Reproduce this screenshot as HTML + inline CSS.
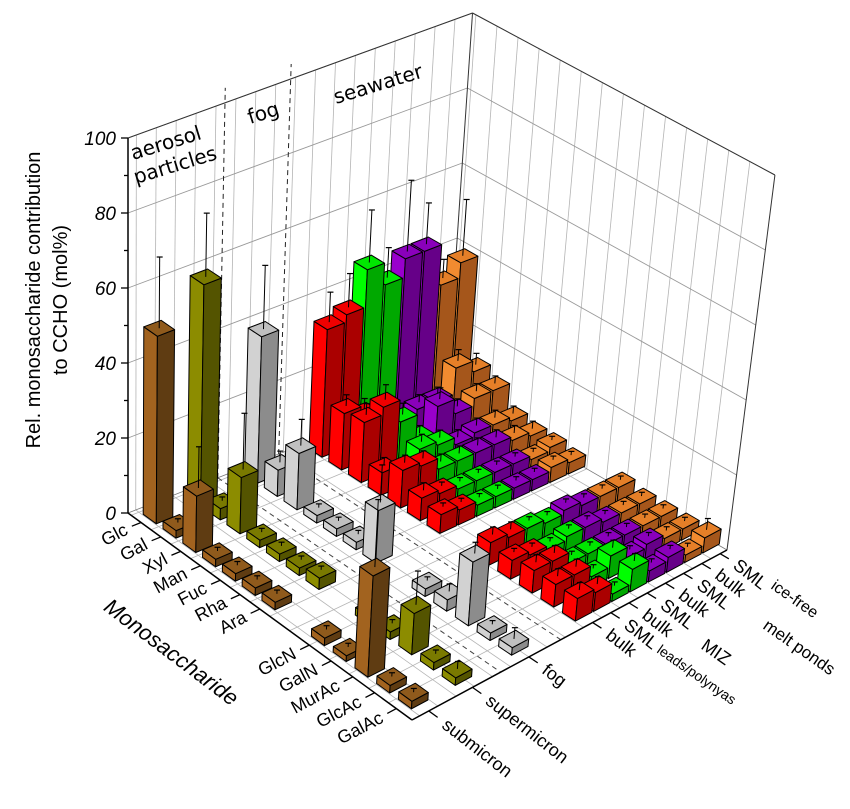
<!DOCTYPE html>
<html><head><meta charset="utf-8"><style>
html,body{margin:0;padding:0;background:#fff;}
svg{display:block;font-family:"Liberation Sans","DejaVu Sans",sans-serif;}
</style></head><body>
<svg id="chart" width="850" height="809" viewBox="0 0 850 809">
<g id="walls"></g>
<g id="bars"></g>
<g id="axes"></g>
<text x="40" y="300" font-size="20" text-anchor="middle" transform="rotate(-90 40 300)">Rel. monosaccharide contribution</text>
<text x="67" y="300" font-size="20" text-anchor="middle" transform="rotate(-90 67 300)">to CCHO (mol%)</text>
<text x="167" y="658" font-size="22" font-style="italic" text-anchor="middle" transform="rotate(37 167 658)">Monosaccharide</text>
<text x="133" y="160" font-size="20" font-family="DejaVu Sans, sans-serif" transform="rotate(-17 133 160)">aerosol</text>
<text x="136" y="184" font-size="20" font-family="DejaVu Sans, sans-serif" transform="rotate(-17 136 184)">particles</text>
<text x="250" y="124" font-size="20" font-family="DejaVu Sans, sans-serif" transform="rotate(-17 250 124)">fog</text>
<text x="336" y="104" font-size="20" font-family="DejaVu Sans, sans-serif" transform="rotate(-17 336 104)">seawater</text>
<text x="656" y="652" font-size="14" transform="rotate(35 656 652)">leads/polynyas</text>
<text x="700" y="648" font-size="18" transform="rotate(35 700 648)">MIZ</text>
<text x="762" y="628" font-size="17" transform="rotate(35 762 628)">melt ponds</text>
<text x="770" y="588" font-size="16" transform="rotate(35 770 588)">ice-free</text>
</svg>
<script>
const categories=["Glc","Gal","Xyl","Man","Fuc","Rha","Ara","GlcN","GalN","MurAc","GlcAc","GalAc"];
const catPos=[0,1,2,3,4,5,6,8.5,9.6,10.7,11.8,12.9];
const seriesLabels=["submicron","supermicron","fog","bulk","SML","bulk","SML","bulk","SML","bulk","SML"];
const seriesPos=[0,2.4,5.5,9,10,11,12,13,14,15,16];
const yTicks=[0,20,40,60,80,100];
const vSubmicron=[50,2,15,2,2,2,2,2,1.5,27,2,2];
const eSubmicron=[19,1,11,1,1,1,1,1,1,18,1,1];
const vSupermicron=[59,3,15,2,2,2,3,2,2,11,2,2];
const eSupermicron=[17,1,15,1,1,1,1,1,1,9,1,2];
const vFog=[39,7,15,2,2,2,14,2,3,17,2,2];
const eFog=[17,3,7,1,1,1,10,1,2,3,1,3];
const vBulkLP=[34,15,16,6,10,6,5,6,5,6,6,6];
const eBulkLP=[8,3,3,2,2,2,1,2,1,2,2,2];
const vSmlLP=[36,12,18,3,9,5,4,5,4,6,6,5];
const eSmlLP=[9,3,4,2,2,1,1,2,1,2,2,2];
const vBulkMIZ=[46,8,12,8,6,4,3,5,3,3,3,2];
const eBulkMIZ=[14,2,3,2,2,1,1,1,1,1,1,1];
const vSmlMIZ=[40,6,5,7,6,4,3,4,4,3,6,6];
const eSmlMIZ=[8,2,2,2,2,1,1,1,1,1,2,2];
const vBulkMP=[45,8,12,5,6,4,3,5,4,3,3,3];
const eBulkMP=[19,2,3,2,2,1,1,1,1,1,1,1];
const vSmlMP=[45,8,8,6,6,4,3,4,3,3,4,4];
const eSmlMP=[11,2,2,2,2,1,1,1,1,1,1,1];
const vBulkIF=[34,15,10,6,5,3,4,4,3,3,3,2];
const eBulkIF=[5,3,2,2,2,1,1,1,1,1,1,1];
const vSmlIF=[38,12,10,5,4,4,3,4,3,3,3,4];
const eSmlIF=[15,3,2,2,2,1,1,1,1,1,1,3];
const seriesValues=[vSubmicron,vSupermicron,vFog,vBulkLP,vSmlLP,vBulkMIZ,vSmlMIZ,vBulkMP,vSmlMP,vBulkIF,vSmlIF];
const seriesErrors=[eSubmicron,eSupermicron,eFog,eBulkLP,eSmlLP,eBulkMIZ,eSmlMIZ,eBulkMP,eSmlMP,eBulkIF,eSmlIF];
const seriesNames=["submicron","supermicron","fog","bulk-leads","sml-leads","bulk-miz","sml-miz","bulk-meltponds","sml-meltponds","bulk-icefree","sml-icefree"];

const PAL={brown:['#a2631f','#5f3c12','#8f5a1c'],olive:['#8c8c00','#545400','#7a7a00'],gray:['#d2d2d2','#8c8c8c','#c0c0c0'],red:['#ff0000','#aa0000','#f00000'],green:['#00ff00','#00a800','#00e600'],purple:['#9900cc','#660088','#8a00bb'],orange:['#f28b30','#a5561b','#e57f28']};
const seriesColor=[PAL.brown,PAL.olive,PAL.gray,PAL.red,PAL.red,PAL.green,PAL.green,PAL.purple,PAL.purple,PAL.orange,PAL.orange];

const NS="http://www.w3.org/2000/svg";
const IMIN=-0.66,IMAX=13.69,JMIN=-0.92,JMAX=16.38,ZS=3.75;
const F00=[128,513],F10=[412,720],F11=[727,550],F01=[447,388];
function base(i,j){
  const fi=(i-IMIN)/(IMAX-IMIN),fj=(j-JMIN)/(JMAX-JMIN);
  const a=(1-fi)*(1-fj),b=fi*(1-fj),c=fi*fj,d=(1-fi)*fj;
  return [a*F00[0]+b*F10[0]+c*F11[0]+d*F01[0],a*F00[1]+b*F10[1]+c*F11[1]+d*F01[1]];
}
function P(i,j,z){const b=base(i,j);return [b[0]+0.0008*(b[0]-128)*z,b[1]-ZS*z];}
function mk(tag,attrs){const el=document.createElementNS(NS,tag);for(const k in attrs)el.setAttribute(k,attrs[k]);return el;}
function pts(a){return a.map(p=>p[0].toFixed(1)+','+p[1].toFixed(1)).join(' ');}
function line(g,p,q,stroke,w,dash){const l=mk('line',{x1:p[0],y1:p[1],x2:q[0],y2:q[1],stroke:stroke,'stroke-width':w});if(dash)l.setAttribute('stroke-dasharray',dash);g.appendChild(l);return l;}

const walls=document.getElementById('walls');
const axes=document.getElementById('axes');
const barsG=document.getElementById('bars');

// walls
const lw=mk('polygon',{points:pts([P(IMIN,JMIN,0),P(IMIN,JMAX,0),P(IMIN,JMAX,100),P(IMIN,JMIN,100)]),fill:'#fff',stroke:'none'});


walls.appendChild(lw);
const gridC='#b4b4b4';
for(let k=0;k<=16;k++){const j=k-0.5;line(walls,P(IMIN,j,0),P(IMIN,j,100),gridC,0.8);line(walls,P(IMIN,j,0),P(IMAX,j,0),gridC,0.8);}
for(let k=0;k<=13;k++){const i=k-0.5;line(walls,P(i,JMAX,0),P(i,JMAX,100),gridC,0.8);line(walls,P(i,JMIN,0),P(i,JMAX,0),gridC,0.8);}
for(const z of yTicks){if(z===0)continue;line(walls,P(IMIN,JMIN,z),P(IMIN,JMAX,z),'#999',0.9);line(walls,P(IMIN,JMAX,z),P(IMAX,JMAX,z),'#999',0.9);}
line(walls,P(IMIN,JMIN,100),P(IMIN,JMAX,100),'#333',1);
line(walls,P(IMIN,JMAX,100),P(IMAX,JMAX,100),'#333',1);
line(walls,P(IMIN,JMAX,0),P(IMIN,JMAX,100),'#333',1);
line(walls,P(IMAX,JMAX,0),P(IMAX,JMAX,100),'#333',1);
line(walls,P(IMIN,JMAX,0),P(IMAX,JMAX,0),'#777',0.8);
line(walls,P(IMIN,JMIN,0),P(IMIN,JMAX,0),'#777',0.8);
for(const j of [3.95,7.25]){
  const d1=line(walls,P(IMIN,j,0),P(IMIN,j,104),'#222',1,'5,4');
  
  
  const d2=line(walls,P(IMIN,j,0),P(IMAX,j,0),'#444',1,'5,4');
  
  
}

// bars
const HI=0.33,HJ=0.45;
const list=[];
seriesValues.forEach((vals,s)=>vals.forEach((v,c)=>{list.push({s,c,v,e:seriesErrors[s][c],i:catPos[c],j:seriesPos[s]});}));
list.forEach(b=>b.depth=base(b.i,b.j)[1]);
list.sort((a,b)=>a.depth-b.depth);
for(const b of list){
  const g=mk('g',{});
  
  
  const i0=b.i-HI,i1=b.i+HI,j0=b.j-HJ,j1=b.j+HJ,h=b.v,col=seriesColor[b.s];
  g.appendChild(mk('polygon',{points:pts([P(i0,j0,0),P(i1,j0,0),P(i1,j0,h),P(i0,j0,h)]),fill:col[0],stroke:'#000','stroke-width':1,'stroke-linejoin':'round'}));
  g.appendChild(mk('polygon',{points:pts([P(i1,j0,0),P(i1,j1,0),P(i1,j1,h),P(i1,j0,h)]),fill:col[1],stroke:'#000','stroke-width':1,'stroke-linejoin':'round'}));
  g.appendChild(mk('polygon',{points:pts([P(i0,j0,h),P(i1,j0,h),P(i1,j1,h),P(i0,j1,h)]),fill:col[2],stroke:'#000','stroke-width':1,'stroke-linejoin':'round'}));
  const t=P(b.i,b.j,h),te=P(b.i,b.j,h+b.e);
  line(g,t,te,'#000',1);
  line(g,[te[0]-3,te[1]],[te[0]+3,te[1]],'#000',1.2);
  barsG.appendChild(g);
}

// y axis
const y0=P(IMIN,JMIN,0),y1=P(IMIN,JMIN,100);
const ya=line(axes,y0,y1,'#000',1.5);


for(let z=0;z<=100;z+=10){const p=P(IMIN,JMIN,z);line(axes,p,[p[0]-(z%20===0?7:4),p[1]],'#000',1.3);}
for(const z of yTicks){
  const p=P(IMIN,JMIN,z);
  const t=mk('text',{x:p[0]-12,y:p[1]+7,'font-size':19,'font-style':'italic','text-anchor':'end'});
  t.textContent=String(z);
  
  
  axes.appendChild(t);
}
// category axis
const ca=line(axes,P(IMIN,JMIN,0),P(IMAX,JMIN,0),'#000',1.5);


categories.forEach((c,k)=>{
  const p=P(catPos[k],JMIN,0),q=P(catPos[k],JMIN-0.5,0),r=P(catPos[k],JMIN-0.8,0);
  line(axes,p,q,'#000',1.3);
  const t=mk('text',{x:r[0],y:r[1]+6,'font-size':18,'text-anchor':'end',transform:'rotate(-28 '+r[0].toFixed(1)+' '+r[1].toFixed(1)+')'});
  t.textContent=c;
  
  
  axes.appendChild(t);
});
// series axis
const sa=line(axes,P(IMAX,JMIN,0),P(IMAX,JMAX,0),'#000',1.5);


seriesLabels.forEach((s,k)=>{
  const p=P(IMAX,seriesPos[k],0),q=P(IMAX+0.45,seriesPos[k],0),r=P(IMAX+0.8,seriesPos[k],0);
  line(axes,p,q,'#000',1.3);
  const t=mk('text',{x:r[0],y:r[1]+6,'font-size':18,'text-anchor':'start',transform:'rotate(38 '+r[0].toFixed(1)+' '+r[1].toFixed(1)+')'});
  t.textContent=s;
  
  
  axes.appendChild(t);
});
</script>
</body></html>
